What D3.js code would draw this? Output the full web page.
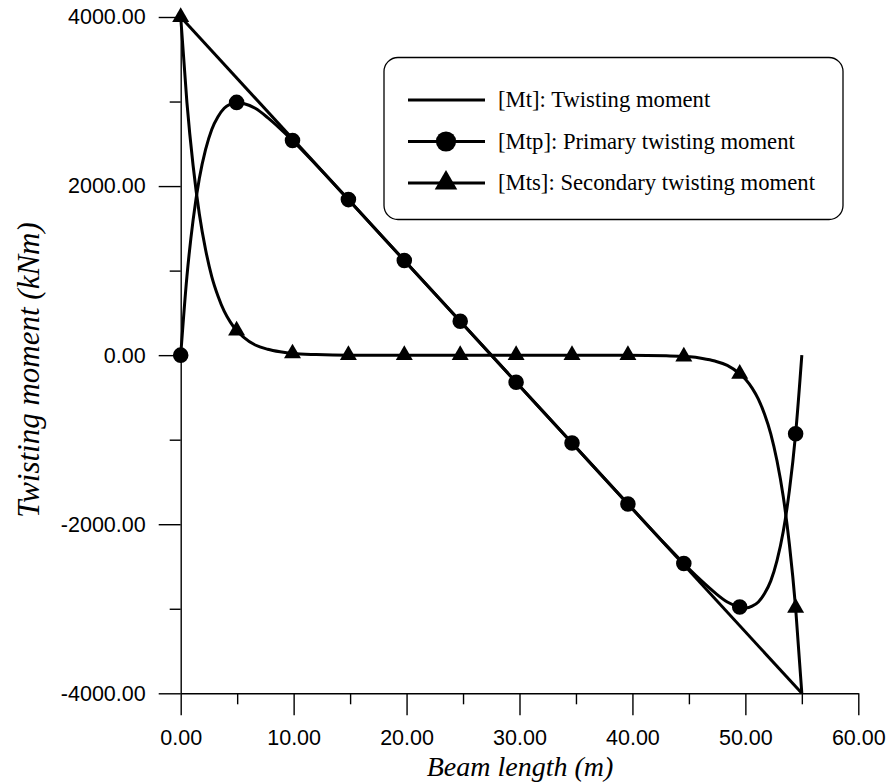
<!DOCTYPE html>
<html>
<head>
<meta charset="utf-8">
<script src="https://cdn.jsdelivr.net/npm/d3@7"></script>
<style>
  body { margin: 0; background: #fff; }
  .tick text { font-family: "Liberation Sans", Arial, sans-serif; }
  .title { font-family: "Liberation Serif", "Times New Roman", serif; font-style: italic; }
  .legend-text { font-family: "Liberation Serif", "Times New Roman", serif; }
</style>
</head>
<body>
<div id="container"><svg></svg></div>
<script>
let width = 886;
let height = 784;

// beam stations (m) and moments (kNm)
let beamX = [0, 0.55, 1.1, 1.65, 2.2, 2.75, 3.3, 3.85, 4.4, 4.95, 5.5, 6.6, 7.7, 8.8, 9.9, 12, 14.85, 19.8, 24.75, 29.7, 34.65, 39.6, 43, 44.55, 45.1, 46.2, 47.3, 48.4, 49.5, 50.05, 50.6, 51.15, 51.7, 52.25, 52.8, 53.35, 53.9, 54.45, 55];
let primaryMoment = [0, 930, 1600, 2090, 2430, 2670, 2820, 2920, 2970, 2990, 2980, 2920, 2810, 2680, 2540, 2250, 1840, 1120, 400, -320, -1040, -1760, -2250, -2465, -2540, -2680, -2810, -2920, -2980, -2990, -2970, -2920, -2820, -2670, -2430, -2090, -1600, -930, 0];
let secondaryMoment = [4000, 2990, 2240, 1670, 1250, 930, 700, 520, 390, 290, 220, 120, 70, 40, 20, 7, 0, 0, 0, 0, 0, 0, -7, -16, -20, -40, -70, -120, -220, -290, -390, -520, -700, -930, -1250, -1670, -2240, -2990, -4000];
let totalX = [0, 55];
let totalMoment = [4000, -4000];
let markerX = [0, 4.95, 9.9, 14.85, 19.8, 24.75, 29.7, 34.65, 39.6, 44.55, 49.5, 54.45];

let xMajor = [0, 10, 20, 30, 40, 50, 60];
let xMinor = [5, 15, 25, 35, 45, 55];
let yMajor = [-4000, -2000, 0, 2000, 4000];
let yMinor = [-3000, -1000, 1000, 3000];

let legendLabels = ['[Mt]: Twisting moment', '[Mtp]: Primary twisting moment', '[Mts]: Secondary twisting moment'];
let legendSymbols = ['none', 'circle', 'triangle'];

let svg, xScale, yScale;

function zip(xs, ys) {
    return xs.map((x, i) => ({x: x, y: ys[i]}));
}

function fmt(v) {
    return v.toFixed(2);
}

function draw() {
    xScale = d3.scaleLinear().domain([0, 60]).range([180.7, 858.3]);
    yScale = d3.scaleLinear().domain([-4000, 4000]).range([693.3, 17]);

    // axes
    let xAxis = svg.append('g').attr('transform', `translate(0, ${yScale(-4000)})`);
    xAxis.call(d3.axisBottom(xScale).tickValues(xMajor).tickFormat(fmt).tickSize(22).tickSizeOuter(0).tickPadding(14));
    xAxis.append('g').call(d3.axisBottom(xScale).tickValues(xMinor).tickFormat('').tickSize(11).tickSizeOuter(0))
        .select('.domain').remove();

    let yAxis = svg.append('g').attr('transform', `translate(${xScale(0)}, 0)`);
    yAxis.call(d3.axisLeft(yScale).tickValues(yMajor).tickFormat(fmt).tickSize(22).tickSizeOuter(0).tickPadding(13));
    yAxis.append('g').call(d3.axisLeft(yScale).tickValues(yMinor).tickFormat('').tickSize(11).tickSizeOuter(0))
        .select('.domain').remove();

    svg.selectAll('.domain, .tick line').attr('stroke', '#000').attr('stroke-width', 1.4);
    svg.selectAll('.tick text').attr('font-size', 21.5).attr('fill', '#000');

    svg.append('text')
        .attr('class', 'title')
        .attr('x', 520).attr('y', 776)
        .attr('text-anchor', 'middle')
        .attr('font-size', 28)
        .attr('fill', '#000')
        .text('Beam length (m)');
    svg.append('text')
        .attr('class', 'title')
        .attr('transform', 'translate(39, 370) rotate(-90)')
        .attr('text-anchor', 'middle')
        .attr('font-size', 31)
        .attr('fill', '#000')
        .text('Twisting moment (kNm)');

    // curves
    let line = d3.line()
        .x(d => xScale(d.x))
        .y(d => yScale(d.y))
        .curve(d3.curveMonotoneX);
    let series = [zip(totalX, totalMoment), zip(beamX, primaryMoment), zip(beamX, secondaryMoment)];
    svg.append('g')
        .selectAll('path')
        .data(series)
        .join('path')
        .attr('d', line)
        .attr('fill', 'none')
        .attr('stroke', '#000')
        .attr('stroke-width', 3)
        .attr('stroke-linejoin', 'round');

    // markers
    let circle = d3.symbol().type(d3.symbolCircle).size(190);
    let tri = d3.symbol().type(d3.symbolTriangle).size(125);
    let pts = zip(beamX, primaryMoment).filter(d => markerX.includes(d.x));
    let pts2 = zip(beamX, secondaryMoment).filter(d => markerX.includes(d.x));
    svg.append('g').selectAll('path')
        .data(pts).join('path')
        .attr('d', circle)
        .attr('transform', d => `translate(${xScale(d.x)}, ${yScale(d.y)})`)
        .attr('fill', '#000');
    svg.append('g').selectAll('path')
        .data(pts2).join('path')
        .attr('d', tri)
        .attr('transform', d => `translate(${xScale(d.x)}, ${yScale(d.y)})`)
        .attr('fill', '#000');

    // legend
    let legend = svg.append('g');
    legend.append('rect')
        .attr('x', 384).attr('y', 57.5)
        .attr('width', 459).attr('height', 162)
        .attr('rx', 14).attr('ry', 14)
        .attr('fill', '#fff')
        .attr('stroke', '#000')
        .attr('stroke-width', 1.3);
    let rows = legend.selectAll('g')
        .data(legendLabels)
        .join('g')
        .attr('transform', (d, i) => `translate(0, ${100 + i * 41.5})`);
    rows.append('line')
        .attr('x1', 408).attr('x2', 485)
        .attr('stroke', '#000').attr('stroke-width', 3);
    rows.append('path')
        .attr('d', (d, i) => {
            if (legendSymbols[i] === 'circle') return d3.symbol().type(d3.symbolCircle).size(320)();
            if (legendSymbols[i] === 'triangle') return d3.symbol().type(d3.symbolTriangle).size(220)();
            return null;
        })
        .attr('transform', 'translate(446, 0)')
        .attr('fill', '#000');
    rows.append('text')
        .attr('class', 'legend-text')
        .attr('x', 498).attr('y', 7)
        .attr('font-size', 22.7)
        .attr('fill', '#000')
        .text(d => d);
}

function main() {
    svg = d3.select('#container')
        .select('svg')
        .attr('width', width)
        .attr('height', height);
    draw();
}

main()
</script>
</body>
</html>
